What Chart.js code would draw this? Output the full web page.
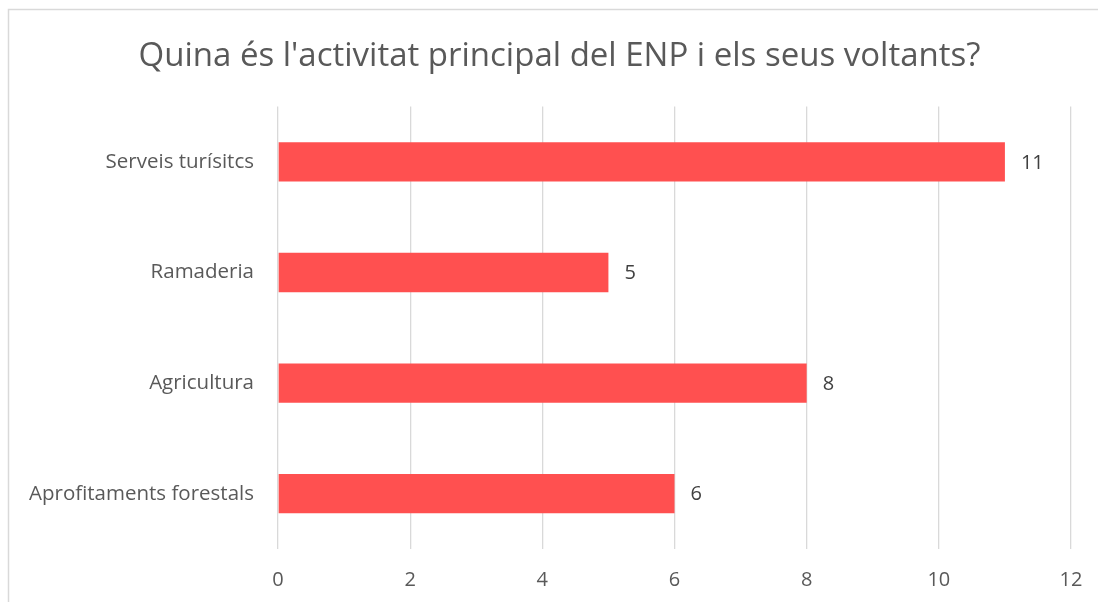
<!DOCTYPE html>
<html lang="ca">
<head>
    <meta charset="UTF-8">
    <title>Activitat principal del ENP</title>
    <script src="https://cdn.jsdelivr.net/npm/chart.js"></script>
    <style>
* {
    margin: 0;
    padding: 0;
}
body {
    background: #ffffff;
    width: 1098px;
    height: 602px;
    overflow: hidden;
}
/* the chart box runs a little past the right edge of the page */
#wrap {
    position: relative;
    width: 1119px;
    height: 602px;
}
    </style>
</head>
<body>
    <div id="wrap">
        <canvas id="activitatChart"></canvas>
    </div>

    <script>
        const titleText = "Quina és l'activitat principal del ENP i els seus voltants?";
        const categories = ['Serveis turísitcs', 'Ramaderia', 'Agricultura', 'Aprofitaments forestals'];
        const responses = [11, 5, 8, 6];
        const xMin = 0, xMax = 12, xStep = 2;

        const fontFamily = "'Open Sans', Lato, Arial, sans-serif";

        // frame line at the left and top of the chart box
        const framePlugin = {
            id: 'frame',
            beforeDraw(chart) {
                const c = chart.ctx;
                c.save();
                c.strokeStyle = '#d9d9d9';
                c.lineWidth = 1.5;
                c.beginPath();
                c.moveTo(8.5, chart.height);
                c.lineTo(8.5, 9.5);
                c.lineTo(chart.width, 9.5);
                c.stroke();
                c.restore();
            }
        };

        // value written just past the end of each bar
        const valueLabels = {
            id: 'valueLabels',
            afterDatasetsDraw(chart) {
                const c = chart.ctx;
                const meta = chart.getDatasetMeta(0);
                c.save();
                c.font = '20px ' + fontFamily;
                c.fillStyle = '#404040';
                c.textAlign = 'left';
                c.textBaseline = 'middle';
                meta.data.forEach((bar, i) => {
                    c.fillText(String(chart.data.datasets[0].data[i]), bar.x + 16, bar.y + 1);
                });
                c.restore();
            }
        };

        const ctx = document.getElementById('activitatChart').getContext('2d');
        const chart = new Chart(ctx, {
            type: 'bar',
            data: {
                labels: categories,
                datasets: [{
                    data: responses,
                    backgroundColor: '#ff5050',
                    borderWidth: 0,
                    categoryPercentage: 1,
                    barPercentage: 0.355
                }]
            },
            options: {
                indexAxis: 'y',
                responsive: true,
                maintainAspectRatio: false,
                animation: false,
                layout: { padding: 0 },
                plugins: {
                    legend: { display: false },
                    tooltip: { enabled: false },
                    title: {
                        display: true,
                        text: titleText,
                        color: '#595959',
                        font: { family: fontFamily, size: 33, weight: 'normal', lineHeight: 1.2 },
                        padding: { top: 37, bottom: 30 }
                    }
                },
                scales: {
                    x: {
                        min: xMin,
                        max: xMax,
                        ticks: {
                            stepSize: xStep,
                            color: '#595959',
                            padding: 19,
                            font: { family: fontFamily, size: 20 }
                        },
                        grid: { color: '#d9d9d9', lineWidth: 1.3, drawTicks: false },
                        border: { display: false },
                        afterFit(scale) {
                            scale.height = 53;
                            scale.paddingLeft = 0;
                            scale.paddingRight = 48;
                        }
                    },
                    y: {
                        ticks: {
                            color: '#595959',
                            padding: 24,
                            font: { family: fontFamily, size: 20.5 }
                        },
                        grid: { display: false, drawTicks: false },
                        border: { display: false },
                        afterFit(scale) { scale.width = 278; }
                    }
                }
            },
            plugins: [framePlugin, valueLabels]
        });
    </script>
</body>
</html>
